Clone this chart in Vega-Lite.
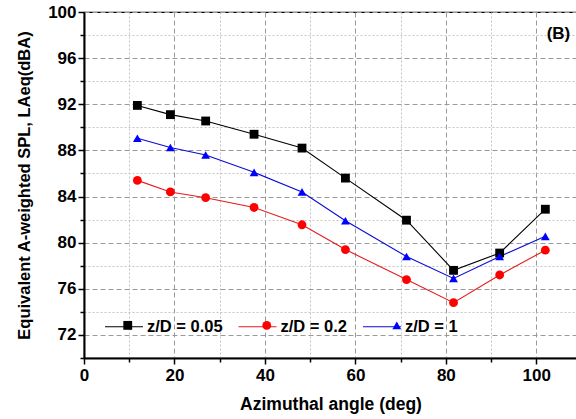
{
  "$schema": "https://vega.github.io/schema/vega-lite/v6.json",
  "width": 493,
  "height": 346,
  "autosize": {"type": "none"},
  "padding": {"left": 84, "top": 12, "right": 0, "bottom": 61},
  "background": "white",
  "config": {
    "view": {"stroke": "black", "strokeWidth": 1.2},
    "font": "Liberation Sans",
    "axis": {
      "labelFont": "Liberation Sans", "labelFontWeight": "bold", "labelFontSize": 17, "labelColor": "black",
      "titleFont": "Liberation Sans", "titleFontWeight": "bold", "titleFontSize": 17.5, "titleColor": "black",
      "domainColor": "black", "domainWidth": 2, "tickColor": "black", "tickWidth": 1.5
    },
    "legend": {
      "labelFont": "Liberation Sans", "labelFontWeight": "bold", "labelFontSize": 16.5, "labelColor": "black",
      "symbolOpacity": 1, "padding": 0
    }
  },
  "data": {
    "values": [
      {"angle": 11.8, "spl": 91.9, "series": "z/D = 0.05"},
      {"angle": 19.1, "spl": 91.1, "series": "z/D = 0.05"},
      {"angle": 26.9, "spl": 90.55, "series": "z/D = 0.05"},
      {"angle": 37.6, "spl": 89.4, "series": "z/D = 0.05"},
      {"angle": 48.2, "spl": 88.2, "series": "z/D = 0.05"},
      {"angle": 57.8, "spl": 85.6, "series": "z/D = 0.05"},
      {"angle": 71.3, "spl": 81.95, "series": "z/D = 0.05"},
      {"angle": 81.7, "spl": 77.6, "series": "z/D = 0.05"},
      {"angle": 91.9, "spl": 79.1, "series": "z/D = 0.05"},
      {"angle": 102.0, "spl": 82.9, "series": "z/D = 0.05"},
      {"angle": 11.8, "spl": 85.4, "series": "z/D = 0.2"},
      {"angle": 19.1, "spl": 84.4, "series": "z/D = 0.2"},
      {"angle": 26.9, "spl": 83.9, "series": "z/D = 0.2"},
      {"angle": 37.6, "spl": 83.05, "series": "z/D = 0.2"},
      {"angle": 48.2, "spl": 81.55, "series": "z/D = 0.2"},
      {"angle": 57.8, "spl": 79.4, "series": "z/D = 0.2"},
      {"angle": 71.3, "spl": 76.8, "series": "z/D = 0.2"},
      {"angle": 81.7, "spl": 74.8, "series": "z/D = 0.2"},
      {"angle": 91.9, "spl": 77.2, "series": "z/D = 0.2"},
      {"angle": 102.0, "spl": 79.35, "series": "z/D = 0.2"},
      {"angle": 11.8, "spl": 89.05, "series": "z/D = 1"},
      {"angle": 19.1, "spl": 88.25, "series": "z/D = 1"},
      {"angle": 26.9, "spl": 87.6, "series": "z/D = 1"},
      {"angle": 37.6, "spl": 86.1, "series": "z/D = 1"},
      {"angle": 48.2, "spl": 84.4, "series": "z/D = 1"},
      {"angle": 57.8, "spl": 81.9, "series": "z/D = 1"},
      {"angle": 71.3, "spl": 78.8, "series": "z/D = 1"},
      {"angle": 81.7, "spl": 76.9, "series": "z/D = 1"},
      {"angle": 91.9, "spl": 78.8, "series": "z/D = 1"},
      {"angle": 102.0, "spl": 80.55, "series": "z/D = 1"}
    ]
  },
  "encoding": {
    "x": {
      "field": "angle", "type": "quantitative",
      "scale": {"domain": [0, 109], "nice": false, "zero": false},
      "axis": {
        "title": "Azimuthal angle (deg)",
        "values": [0, 10, 20, 30, 40, 50, 60, 70, 80, 90, 100],
        "labelExpr": "datum.value % 20 === 0 ? datum.label : ''",
        "tickSize": {"condition": {"test": "datum.value % 20 === 0", "value": 6}, "value": 4},
        "grid": true,
        "gridColor": {"condition": {"test": "datum.value % 20 === 0", "value": "#9a9a9a"}, "value": "#c4c4c4"},
        "gridDash": {"condition": {"test": "datum.value % 20 === 0", "value": [5, 3]}, "value": [2, 2]},
        "gridWidth": 1,
        "labelPadding": 3, "titlePadding": 12, "labelFlush": false
      }
    },
    "y": {
      "field": "spl", "type": "quantitative",
      "scale": {"domain": [70, 100], "nice": false, "zero": false},
      "axis": {
        "title": "Equivalent A-weighted SPL, LAeq(dBA)",
        "titleFontSize": 16.5,
        "values": [70, 72, 74, 76, 78, 80, 82, 84, 86, 88, 90, 92, 94, 96, 98, 100],
        "labelExpr": "(datum.value - 72) % 4 === 0 ? datum.label : ''",
        "tickSize": {"condition": {"test": "(datum.value - 72) % 4 === 0", "value": 6}, "value": 4},
        "grid": true,
        "gridColor": {"condition": {"test": "(datum.value - 72) % 4 === 0", "value": "#9a9a9a"}, "value": "#c4c4c4"},
        "gridDash": {"condition": {"test": "(datum.value - 72) % 4 === 0", "value": [5, 3]}, "value": [2, 2]},
        "gridWidth": 1,
        "labelPadding": 2, "titlePadding": 15, "labelFlush": false
      }
    }
  },
  "layer": [
    {
      "mark": {"type": "line", "strokeWidth": 1.1},
      "encoding": {
        "color": {
          "field": "series", "type": "nominal",
          "scale": {"domain": ["z/D = 0.05", "z/D = 0.2", "z/D = 1"], "range": ["#000000", "#e8191b", "#0a0ad8"]},
          "legend": {"orient": "none", "legendX": 20, "legendY": 294.5, "direction": "horizontal", "title": null,
                     "symbolType": "stroke", "symbolSize": 1444, "symbolStrokeWidth": 1.1, "labelOffset": 3, "columnPadding": 12.5}
        }
      }
    },
    {
      "mark": {"type": "point", "filled": true, "opacity": 1, "size": 78},
      "encoding": {
        "fill": {
          "field": "series", "type": "nominal",
          "scale": {"domain": ["z/D = 0.05", "z/D = 0.2", "z/D = 1"], "range": ["#000000", "#ff0000", "#0000ff"]},
          "legend": {"orient": "none", "legendX": 35.5, "legendY": 305, "direction": "horizontal", "title": null,
                     "symbolSize": 78, "symbolStrokeWidth": 0, "labelOffset": 18.5, "columnPadding": 28, "labelOpacity": 0}
        },
        "shape": {
          "field": "series", "type": "nominal",
          "scale": {"domain": ["z/D = 0.05", "z/D = 0.2", "z/D = 1"], "range": ["square", "circle", "triangle-up"]},
          "legend": {"orient": "none", "legendX": 35.5, "legendY": 305, "direction": "horizontal", "title": null,
                     "symbolSize": 78, "symbolStrokeWidth": 0, "labelOffset": 18.5, "columnPadding": 28, "labelOpacity": 0}
        }
      }
    },
    {
      "data": {"values": [{"label": "(B)", "ax": 104.9, "ay": 98.1}]},
      "mark": {"type": "text", "font": "Liberation Sans", "fontWeight": "bold", "fontSize": 17, "color": "black", "align": "center", "baseline": "middle"},
      "encoding": {
        "x": {"field": "ax", "type": "quantitative"},
        "y": {"field": "ay", "type": "quantitative"},
        "text": {"field": "label"}
      }
    }
  ],
  "resolve": {"scale": {"color": "independent", "fill": "independent", "shape": "independent"}}
}
